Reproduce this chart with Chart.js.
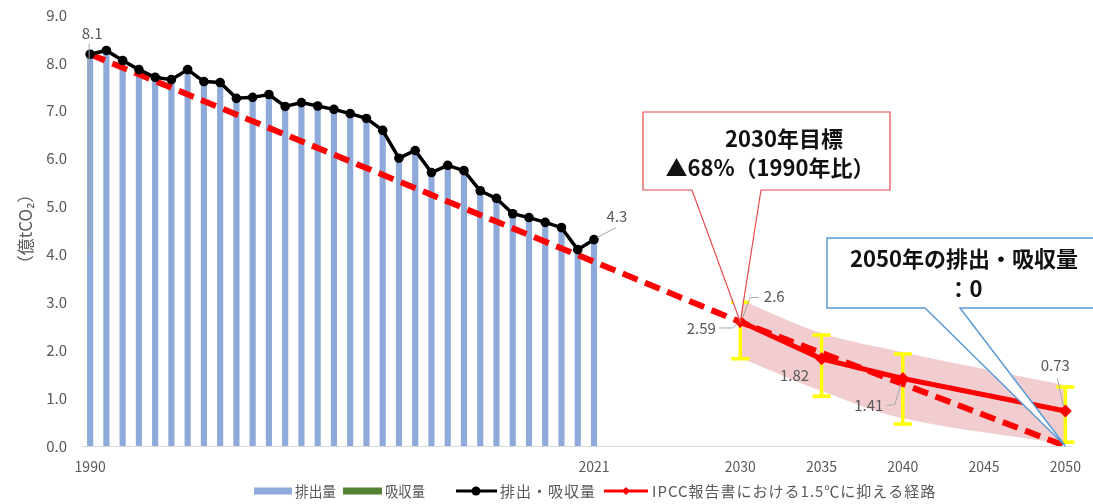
<!DOCTYPE html>
<html lang="ja">
<head>
<meta charset="utf-8">
<title>排出・吸収量の推移</title>
<script src="https://cdn.jsdelivr.net/npm/chart.js"></script>
<style>
  html, body { margin: 0; padding: 0; background: #fff; }
  #wrap { position: relative; width: 1093px; height: 504px; }
</style>
</head>
<body>
<div id="wrap"><canvas id="chart"></canvas></div>
<script>
// 軸の目盛り
var xTickYears = [1990, 2021, 2030, 2035, 2040, 2045, 2050];

// 実績（億tCO2）
var years = [1990, 1991, 1992, 1993, 1994, 1995, 1996, 1997, 1998, 1999,
             2000, 2001, 2002, 2003, 2004, 2005, 2006, 2007, 2008, 2009,
             2010, 2011, 2012, 2013, 2014, 2015, 2016, 2017, 2018, 2019,
             2020, 2021];
var emissions = [8.18, 8.26, 8.05, 7.86, 7.70, 7.65, 7.86, 7.61, 7.59, 7.26,
                 7.28, 7.34, 7.09, 7.17, 7.10, 7.03, 6.94, 6.84, 6.59, 6.01,
                 6.17, 5.71, 5.86, 5.75, 5.33, 5.17, 4.85, 4.77, 4.67, 4.56,
                 4.10, 4.31];
var netEmissions = [8.18, 8.26, 8.05, 7.86, 7.70, 7.65, 7.86, 7.61, 7.59, 7.26,
                    7.28, 7.34, 7.09, 7.17, 7.10, 7.03, 6.94, 6.84, 6.59, 6.01,
                    6.17, 5.71, 5.86, 5.75, 5.33, 5.17, 4.85, 4.77, 4.67, 4.56,
                    4.10, 4.31];

// 目標の経路（破線）
var pathYears = [1990, 2030, 2050];
var pathValues = [8.18, 2.59, 0];

// IPCC 1.5℃経路
var ipccYears = [2030, 2035, 2040, 2050];
var ipccValues = [2.6, 1.82, 1.41, 0.73];
var ipccErrHigh = [3.0, 2.32, 1.92, 1.23];
var ipccErrLow = [1.82, 1.04, 0.46, 0.08];
var bandHigh = [3.05, 2.36, 1.96, 1.27];
var bandLow = [1.84, 1.15, 0.58, 0.04];

var FONT = '"Noto Sans CJK JP", "Noto Sans", sans-serif';
var GRAY = '#595959';

Chart.defaults.font.family = FONT;
Chart.defaults.color = GRAY;

function pts(xs, ys) {
  return xs.map(function(x, i){ return { x: x, y: ys[i] }; });
}

function pix(chart, x, y) {
  return { x: chart.scales.x.getPixelForValue(x), y: chart.scales.y.getPixelForValue(y) };
}

// 黄色のエラーバー（帯の直後に描く）
var errorBars = {
  id: 'errorBars',
  afterDatasetDraw: function(chart, args) {
    if (args.index !== 3) return;
    var ctx = chart.ctx;
    ctx.save();
    ctx.strokeStyle = '#ffff00';
    ctx.lineWidth = 3.5;
    ipccYears.forEach(function(yr, i){
      var top = pix(chart, yr, ipccErrHigh[i]);
      var bot = pix(chart, yr, ipccErrLow[i]);
      ctx.beginPath();
      ctx.moveTo(top.x, top.y); ctx.lineTo(bot.x, bot.y);
      ctx.moveTo(top.x - 9, top.y); ctx.lineTo(top.x + 9, top.y);
      ctx.moveTo(bot.x - 9, bot.y); ctx.lineTo(bot.x + 9, bot.y);
      ctx.stroke();
    });
    ctx.restore();
  }
};

function leader(ctx, points) {
  ctx.beginPath();
  ctx.moveTo(points[0][0], points[0][1]);
  for (var i = 1; i < points.length; i++) ctx.lineTo(points[i][0], points[i][1]);
  ctx.stroke();
}

function callout(ctx, box, base, tip, color, width) {
  ctx.beginPath();
  ctx.moveTo(box[0], box[1]);
  ctx.lineTo(box[2], box[1]);
  ctx.lineTo(box[2], box[3]);
  ctx.lineTo(base[1], box[3]);
  ctx.lineTo(tip.x, tip.y);
  ctx.lineTo(base[0], box[3]);
  ctx.lineTo(box[0], box[3]);
  ctx.closePath();
  ctx.fillStyle = '#fff';
  ctx.fill();
  ctx.strokeStyle = color;
  ctx.lineWidth = width;
  ctx.stroke();
}

var annotations = {
  id: 'annotations',
  afterDraw: function(chart) {
    var ctx = chart.ctx;
    ctx.save();

    // 軸タイトル
    ctx.fillStyle = GRAY;
    ctx.font = '17px ' + FONT;
    ctx.textAlign = 'center';
    ctx.textBaseline = 'middle';
    ctx.save();
    ctx.translate(26, 229);
    ctx.rotate(-Math.PI / 2);
    ctx.fillText('（億tCO₂）', 0, 0);
    ctx.restore();

    // データラベル
    ctx.font = '15px ' + FONT;
    ctx.strokeStyle = '#a6a6a6';
    ctx.lineWidth = 1;
    var p = pix(chart, 1990, netEmissions[0]);
    ctx.fillText('8.1', p.x + 2, p.y - 21);
    leader(ctx, [[p.x - 1, p.y - 11], [p.x - 1, chart.scales.y.getPixelForValue(4.05)]]);

    p = pix(chart, 2021, netEmissions[netEmissions.length - 1]);
    ctx.fillText('4.3', p.x + 23, p.y - 23);
    leader(ctx, [[p.x + 3, p.y - 2], [p.x + 22, p.y - 12]]);

    p = pix(chart, 2030, ipccValues[0]);
    ctx.fillText('2.6', p.x + 34, p.y - 25);
    leader(ctx, [[p.x + 18, p.y - 24], [p.x + 10, p.y - 24], [p.x + 2, p.y - 3]]);

    p = pix(chart, 2030, pathValues[1]);
    ctx.fillText('2.59', p.x - 39, p.y + 6);
    leader(ctx, [[p.x - 21, p.y + 6], [p.x - 8, p.y + 6], [p.x - 2, p.y + 1]]);

    p = pix(chart, 2035, ipccValues[1]);
    ctx.fillText('1.82', p.x - 27, p.y + 16);

    p = pix(chart, 2040, ipccValues[2]);
    ctx.fillText('1.41', p.x - 34, p.y + 27);
    leader(ctx, [[p.x - 16, p.y + 27], [p.x - 8, p.y + 26], [p.x - 2, p.y + 6]]);

    p = pix(chart, 2050, ipccValues[3]);
    ctx.fillText('0.73', p.x - 10, p.y - 46);
    leader(ctx, [[p.x - 8, p.y - 33], [p.x - 2, p.y - 5]]);

    // 吹き出し
    callout(ctx, [643, 112, 890, 190], [692, 761], pix(chart, 2030, pathValues[1]), '#e8484d', 1.2);
    callout(ctx, [827, 238, 1100, 308], [925, 960], pix(chart, 2050, pathValues[2]), '#5b9bd5', 1.5);

    ctx.fillStyle = '#111';
    ctx.font = 'bold 22px ' + FONT;
    ctx.fillText('2030年目標', 784, 139);
    ctx.fillText('▲68%（1990年比）', 770, 168);
    ctx.fillText('2050年の排出・吸収量', 964, 259);
    ctx.fillText('：0', 965, 289);

    // 凡例
    var ly = 491;
    ctx.textAlign = 'left';
    ctx.fillStyle = '#8faadc';
    ctx.fillRect(254, ly - 3.5, 38, 7);
    ctx.fillStyle = '#548235';
    ctx.fillRect(343, ly - 3.5, 39, 7);

    ctx.strokeStyle = '#000';
    ctx.lineWidth = 3;
    leader(ctx, [[456, ly], [497, ly]]);
    ctx.fillStyle = '#000';
    ctx.beginPath();
    ctx.arc(476, ly, 4.5, 0, Math.PI * 2);
    ctx.fill();

    ctx.strokeStyle = '#ff0000';
    leader(ctx, [[604, ly], [648, ly]]);
    ctx.fillStyle = '#ff0000';
    ctx.beginPath();
    ctx.moveTo(626, ly - 4); ctx.lineTo(630, ly); ctx.lineTo(626, ly + 4); ctx.lineTo(622, ly);
    ctx.closePath();
    ctx.fill();

    ctx.fillStyle = GRAY;
    ctx.font = '15px ' + FONT;
    ctx.fillText('排出量', 295, ly, 41);
    ctx.fillText('吸収量', 385, ly, 40);
    ctx.letterSpacing = '1px';
    ctx.fillText('排出・吸収量', 500, ly);
    ctx.fillText('IPCC報告書における1.5℃に抑える経路', 652, ly);
    ctx.letterSpacing = '0px';

    ctx.restore();
  }
};

new Chart(document.getElementById('chart'), {
  type: 'bar',
  data: {
    datasets: [
      {
        type: 'line',
        label: '排出・吸収量',
        data: pts(years, netEmissions),
        borderColor: '#000',
        backgroundColor: '#000',
        borderWidth: 3.5,
        pointRadius: 4.8,
        pointBorderWidth: 0,
        pointBackgroundColor: '#000'
      },
      {
        type: 'line',
        label: 'IPCC報告書における1.5℃に抑える経路',
        data: pts(ipccYears, ipccValues),
        borderColor: '#ff0000',
        backgroundColor: '#ff0000',
        borderWidth: 5,
        pointStyle: 'rectRot',
        pointRadius: 6.5,
        pointBorderWidth: 0,
        pointBackgroundColor: '#ff0000'
      },
      {
        type: 'line',
        label: '目標経路',
        data: pts(pathYears, pathValues),
        borderColor: '#ff0000',
        borderWidth: 6,
        borderDash: [16, 8],
        pointRadius: 0
      },
      {
        type: 'line',
        label: '上限',
        data: pts(ipccYears, bandHigh),
        borderColor: 'transparent',
        borderWidth: 0,
        pointRadius: 0,
        tension: 0.35,
        fill: '+1',
        backgroundColor: '#f1cdd0'
      },
      {
        type: 'line',
        label: '下限',
        data: pts(ipccYears, bandLow),
        borderColor: 'transparent',
        borderWidth: 0,
        pointRadius: 0,
        tension: 0.35,
        fill: false
      },
      {
        type: 'bar',
        label: '排出量',
        data: pts(years, emissions),
        backgroundColor: '#8eaadb',
        barThickness: 5.5
      }
    ]
  },
  options: {
    responsive: true,
    maintainAspectRatio: false,
    animation: false,
    layout: { autoPadding: false, padding: { top: 15, right: 16, left: 0, bottom: 0 } },
    plugins: {
      legend: { display: false },
      tooltip: { enabled: false }
    },
    scales: {
      x: {
        type: 'linear',
        min: 1989.5,
        max: 2050.4,
        offset: false,
        grid: { display: false, drawTicks: false },
        border: { color: '#d9d9d9' },
        afterBuildTicks: function(scale) {
          scale.ticks = xTickYears.map(function(v){ return { value: v }; });
        },
        afterFit: function(scale) { scale.height = 58; },
        ticks: {
          autoSkip: false,
          maxRotation: 0,
          padding: 12,
          font: { size: 14 },
          callback: function(v) { return String(v); }
        }
      },
      y: {
        min: 0,
        max: 9,
        // 目盛り線は描かず、tickLength でラベルの位置だけ下げる
        grid: { display: false, drawTicks: true, tickLength: 15 },
        border: { display: false },
        afterFit: function(scale) { scale.width = 82; },
        ticks: {
          stepSize: 1,
          padding: 0,
          font: { size: 15 },
          callback: function(v) { return v.toFixed(1); }
        }
      }
    }
  },
  plugins: [errorBars, annotations]
});
</script>
</body>
</html>
